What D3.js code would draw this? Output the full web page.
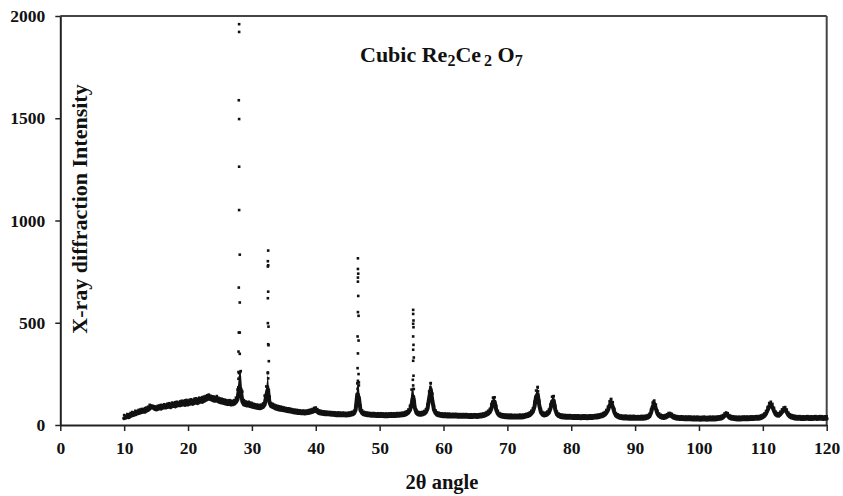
<!DOCTYPE html>
<html><head><meta charset="utf-8">
<script src="https://cdn.jsdelivr.net/npm/d3@7"></script>
<style>
html,body{margin:0;padding:0;background:#fff;}
svg{display:block;font-family:"Liberation Serif","Times New Roman",serif;font-weight:bold;}
</style></head>
<body><svg id="chart" width="843" height="496"></svg>
<script>
// ---- data ----
const xTicks = [0,10,20,30,40,50,60,70,80,90,100,110,120];
const yTicks = [0,500,1000,1500,2000];
const scanStart = 10, scanStep = 0.25;
// measured intensity profile, one value per 0.25 deg from 10 to 120 deg
const profile = [
 33,36,40,38,44,47,50,52,56,58,61,63,66,65,70,74,80,88,86,79,
 76,78,82,80,84,86,85,88,90,87,92,94,91,95,98,96,99,101,98,102,
 100,104,106,103,108,110,107,112,115,113,118,122,126,130,127,124,120,118,122,115,
 112,110,108,106,104,102,103,100,101,104,112,125,185,175,115,100,98,95,96,92,
 90,88,86,84,83,82,84,88,100,145,175,110,92,88,84,80,78,76,74,73,
 72,70,68,67,66,64,62,61,60,59,58,57,58,56,57,58,60,62,64,68,
 70,64,58,56,55,54,53,52,52,51,50,50,49,48,49,48,47,48,47,46,
 47,48,50,52,56,75,150,135,72,58,52,50,48,47,46,45,46,45,44,45,
 44,45,44,43,44,43,44,45,44,45,44,46,45,46,47,48,50,54,60,72,
 100,140,85,60,52,50,50,52,55,62,80,130,175,120,75,58,50,47,45,44,
 43,44,42,43,42,41,42,41,42,40,41,40,41,40,41,40,39,40,39,40,
 40,39,40,41,42,44,46,50,55,62,80,115,115,75,55,46,42,40,39,38,
 38,37,38,37,36,37,36,37,38,37,38,40,42,44,48,55,65,90,140,150,
 95,62,50,46,48,52,60,80,115,120,75,52,44,40,38,37,36,36,35,36,
 35,34,35,34,35,34,33,34,35,34,33,34,35,34,35,36,37,38,40,42,
 45,50,58,72,95,112,90,62,46,40,36,34,33,32,33,32,31,32,31,32,
 31,30,31,30,32,31,32,33,36,42,60,90,105,80,55,44,38,35,34,36,
 40,45,46,42,36,33,31,30,29,30,29,28,29,28,29,28,27,28,27,28,
 27,26,27,28,27,26,27,28,27,28,27,28,29,30,32,36,44,50,45,36,
 32,30,29,28,27,28,27,28,29,28,29,28,29,30,29,30,31,30,32,34,
 38,44,55,72,92,100,88,68,52,46,45,52,62,72,75,62,48,40,36,34,
 32,31,30,31,29,30,29,30,31,29,30,29,30,31,29,30,31,30,29,30,
 30
];
// scatter of the noisy counts around the profile (upper edge of the band), same 0.25 deg grid
const scatterHigh = [
 45,42,50,49,55,60,58,66,64,70,72,75,74,79,82,86,95,92,90,88,
 86,90,92,95,93,98,96,100,103,101,106,104,108,110,107,112,115,113,117,119,
 116,120,122,118,125,127,124,130,128,133,135,138,142,145,140,137,136,132,138,130,
 126,125,122,120,118,116,118,115,114,118,130,170,250,260,160,118,112,108,110,106,
 104,100,98,96,95,94,96,102,140,185,250,135,104,100,96,92,90,88,86,84,
 82,80,78,78,76,74,72,71,70,69,68,66,67,66,66,68,70,72,75,80,
 82,74,68,66,64,63,62,61,60,60,59,59,58,57,58,57,56,57,56,55,
 56,57,59,61,66,90,200,190,90,68,61,59,57,56,55,54,55,54,53,54,
 53,54,53,52,53,52,53,54,53,54,53,55,54,55,56,57,60,64,72,90,
 170,190,110,70,61,59,59,61,65,74,98,160,200,150,90,68,59,56,54,53,
 52,53,51,52,51,50,51,50,51,49,50,49,50,49,50,49,48,49,48,49,
 49,48,49,50,51,53,55,60,66,75,98,130,132,90,66,55,51,49,48,47,
 47,46,47,46,45,46,45,46,47,46,47,49,51,53,58,66,78,110,165,180,
 115,75,60,55,57,62,72,97,135,138,90,62,53,49,47,46,45,45,44,45,
 44,43,44,43,44,43,42,43,44,43,42,43,44,43,44,45,46,47,49,51,
 55,60,70,86,112,124,108,75,55,49,45,43,42,41,42,41,40,41,40,41,
 40,39,40,39,41,40,41,42,45,51,72,106,116,96,66,53,47,44,43,45,
 49,55,55,51,45,42,40,39,38,39,38,37,38,37,38,37,36,37,36,37,
 36,35,36,37,36,35,36,37,36,37,36,37,38,39,41,45,53,58,54,45,
 41,39,38,37,36,37,36,37,38,37,38,37,38,39,38,39,40,39,41,43,
 47,53,65,84,104,110,100,80,62,55,54,62,73,82,84,72,57,49,45,43,
 41,40,39,40,38,39,38,39,40,38,39,38,39,40,38,39,40,39,38,39,
 39
];
// individual scan points on the steep flanks of the sharp reflections
const peakAngles = [
 28.0,28.0,27.95,28.0,28.0,28.0,28.1,27.95,28.1,27.95,28.1,27.9,28.1,27.9,28.15,28.1,27.9,27.9,28.15,27.85,28.2,
 32.55,32.5,32.55,32.5,32.55,32.5,32.5,32.6,32.55,32.6,32.65,32.5,32.55,32.5,32.65,32.45,32.7,
 46.6,46.6,46.65,46.6,46.6,46.65,46.6,46.7,46.55,46.7,46.6,46.55,46.7,46.6,46.75,46.55,46.7,46.5,46.8,
 55.25,55.25,55.3,55.25,55.3,55.25,55.3,55.25,55.35,55.25,55.3,55.2,55.35,55.15,55.4,
 58.0,57.95,58.05,57.9,
 67.9,74.75,74.8,77.2,86.2,92.9,111.2
];
const peakCounts = [
 1960,1922,1588,1496,1263,1051,833,672,599,452,452,359,348,259,259,232,226,184,177,140,140,
 853,801,781,775,652,620,498,481,395,390,312,257,228,186,169,140,140,
 815,763,740,721,701,631,552,534,433,413,350,278,249,216,208,177,148,132,107,
 563,543,511,495,478,433,392,368,330,314,241,221,176,140,124,
 205,186,164,140,
 135,186,165,140,124,115,104
];

// ---- drawing ----
const svg = d3.select("#chart");
const x = d3.scaleLinear().domain([0,120]).range([60.3,826.7]);
const y = d3.scaleLinear().domain([0,2000]).range([425,16]);

const scan = profile.map((v,i)=>({a: scanStart + i*scanStep, v, h: scatterHigh[i]}));
const peaks = peakAngles.map((a,i)=>({a, v: peakCounts[i]}));

// frame (top and right)
svg.append("line").attr("x1",x(0)).attr("x2",x(120)).attr("y1",y(2000)).attr("y2",y(2000))
  .attr("stroke","#444").attr("stroke-width",2);
svg.append("line").attr("x1",x(120)).attr("x2",x(120)).attr("y1",y(2000)).attr("y2",y(0))
  .attr("stroke","#444").attr("stroke-width",2);

// data band
const line = d3.line().x(d=>x(d.a)).y(d=>y(d.v));
const area = d3.area().x(d=>x(d.a)).y0(d=>y(d.v)).y1(d=>y(d.h));
svg.append("path").datum(scan).attr("d",area).attr("fill","#111");
svg.append("path").datum(scan).attr("d",line)
  .attr("fill","none").attr("stroke","#111").attr("stroke-width",4)
  .attr("stroke-linejoin","round").attr("stroke-linecap","round");
svg.append("g").selectAll("rect").data(scan).join("rect")
  .attr("x",d=>x(d.a)-1.3).attr("y",d=>y(d.h)-2).attr("width",2.6).attr("height",2.6).attr("fill","#111");
svg.append("g").selectAll("rect").data(peaks).join("rect")
  .attr("x",d=>x(d.a)-1.3).attr("y",d=>y(d.v)-1.3).attr("width",2.6).attr("height",2.6).attr("fill","#111");

// axes
const xAxis = d3.axisBottom(x).tickValues(xTicks).tickSize(6).tickSizeOuter(0).tickPadding(6).tickFormat(d3.format("d"));
const yAxis = d3.axisLeft(y).tickValues(yTicks).tickSize(5).tickSizeOuter(0).tickPadding(10).tickFormat(d3.format("d"));
const gx = svg.append("g").attr("transform",`translate(0,${y(0)})`).call(xAxis);
const gy = svg.append("g").attr("transform",`translate(${x(0)},0)`).call(yAxis);
[gx,gy].forEach(g=>{
  g.selectAll("path.domain").attr("stroke","#222").attr("stroke-width",2);
  g.selectAll(".tick line").attr("stroke","#222").attr("stroke-width",1.5);
  g.selectAll(".tick text").attr("fill","#111").style("font-size","17.5px")
    .style("font-family",'"Liberation Serif","Times New Roman",serif').style("font-weight","bold");
});
gx.selectAll(".tick text").attr("dy","0.95em");

// titles
svg.append("text").attr("x",442).attr("y",489).attr("text-anchor","middle")
  .style("font-size","20.5px").attr("fill","#111").text("2θ angle");
svg.append("text").attr("transform","translate(87,209) rotate(-90)").attr("text-anchor","middle")
  .style("font-size","22px").attr("fill","#111").text("X-ray diffraction Intensity");
const t = svg.append("text").attr("x",360).attr("y",62).style("font-size","22px").attr("fill","#111");
t.append("tspan").text("Cubic Re");
t.append("tspan").attr("dy",4).style("font-size","16px").text("2");
t.append("tspan").attr("dy",-4).text("Ce");
t.append("tspan").attr("dy",4).attr("dx",3).style("font-size","16px").text("2");
t.append("tspan").attr("dy",-4).text(" O");
t.append("tspan").attr("dy",4).style("font-size","16px").text("7");
</script></body></html>
